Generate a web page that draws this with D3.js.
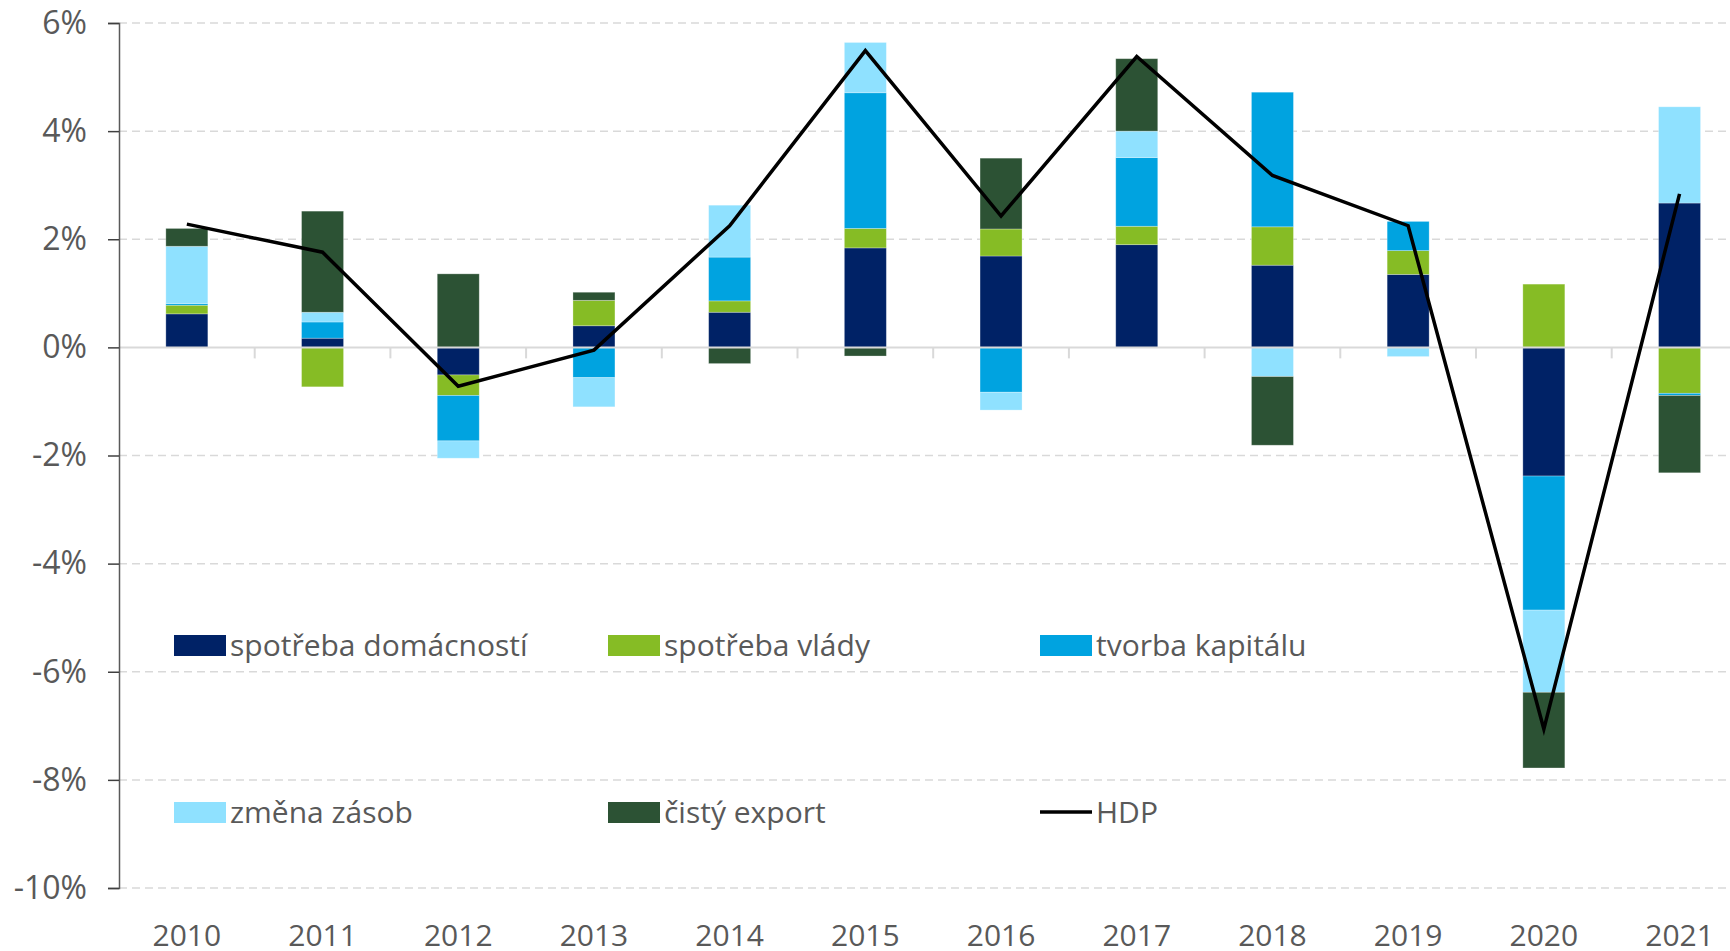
<!DOCTYPE html>
<html>
<head>
<meta charset="utf-8">
<script src="https://cdn.jsdelivr.net/npm/d3@7"></script>
<style>
  body { margin: 0; background: #fff; }
  svg { display: block; font-family: "Open Sans", "Noto Sans", sans-serif; }
</style>
</head>
<body>
<svg id="chart" width="1730" height="951"></svg>
<script>
// data (percent points)
var years = ["2010","2011","2012","2013","2014","2015","2016","2017","2018","2019","2020","2021"];
var domacnosti = [0.62, 0.17, -0.51, 0.40, 0.65, 1.84, 1.69, 1.90, 1.52, 1.35, -2.38, 2.67];
var vlada      = [0.16, -0.73, -0.38, 0.47, 0.21, 0.36, 0.50, 0.34, 0.71, 0.44, 1.17, -0.85];
var kapital    = [0.03, 0.30, -0.84, -0.56, 0.81, 2.51, -0.83, 1.27, 2.49, 0.54, -2.48, -0.04];
var zasoby     = [1.06, 0.18, -0.32, -0.54, 0.96, 0.93, -0.33, 0.49, -0.54, -0.17, -1.52, 1.78];
var export_    = [0.33, 1.87, 1.36, 0.15, -0.30, -0.16, 1.31, 1.34, -1.27, 0.00, -1.40, -1.43];
var hdp        = [2.28, 1.76, -0.72, -0.05, 2.25, 5.49, 2.43, 5.38, 3.18, 2.25, -7.06, 2.84];
var yTicks = [6, 4, 2, 0, -2, -4, -6, -8, -10];

var seriesKeys = ["domacnosti", "vlada", "kapital", "zasoby", "export"];
var seriesNames = ["spotřeba domácností", "spotřeba vlády", "tvorba kapitálu", "změna zásob", "čistý export"];
var seriesColors = ["#002266", "#86BC25", "#00A3E0", "#8FE1FF", "#2C5234"];
var lineName = "HDP";

var rows = years.map(function(y, i) {
  return { year: y, domacnosti: domacnosti[i], vlada: vlada[i], kapital: kapital[i],
           zasoby: zasoby[i], export: export_[i], hdp: hdp[i] };
});

var svg = d3.select("#chart");
var W = 1730, H = 951;
var plotLeft = 119, plotTop = 23, plotBottom = 888;
var band = 135.7;
var fontSize = 30;

var x = d3.scaleBand().domain(years).range([plotLeft, plotLeft + band * years.length]).padding(0);
var y = d3.scaleLinear().domain([-10, 6]).range([plotBottom, plotTop]);
var barW = 42;
var textCol = "#595959";

// gridlines
svg.append("g").selectAll("line")
  .data(yTicks.filter(function(t) { return t !== 0; }))
  .enter().append("line")
  .attr("x1", plotLeft).attr("x2", W)
  .attr("y1", function(d) { return y(d); }).attr("y2", function(d) { return y(d); })
  .attr("stroke", "#d9d9d9").attr("stroke-width", 1.5)
  .attr("stroke-dasharray", "8,5");

// bars
var stack = d3.stack().keys(seriesKeys).offset(d3.stackOffsetDiverging);
var stacked = stack(rows);

svg.append("g").selectAll("g")
  .data(stacked)
  .enter().append("g")
  .attr("fill", function(d, i) { return seriesColors[i]; })
  .selectAll("rect")
  .data(function(d) { return d; })
  .enter().append("rect")
  .attr("x", function(d) { return x(d.data.year) + x.bandwidth() / 2 - barW / 2; })
  .attr("width", barW)
  .attr("y", function(d) { return y(Math.max(d[0], d[1])); })
  .attr("height", function(d) { return Math.abs(y(d[0]) - y(d[1])); })
  .attr("stroke", "rgba(255,255,255,0.35)").attr("stroke-width", 0.8);

// zero line with category ticks
svg.append("line")
  .attr("x1", plotLeft).attr("x2", W)
  .attr("y1", y(0)).attr("y2", y(0))
  .attr("stroke", "#d9d9d9").attr("stroke-width", 2);

svg.append("g").selectAll("line")
  .data(years.slice(1))
  .enter().append("line")
  .attr("x1", function(d) { return x(d); }).attr("x2", function(d) { return x(d); })
  .attr("y1", y(0)).attr("y2", y(0) + 11)
  .attr("stroke", "#d9d9d9").attr("stroke-width", 2);

// y axis
var yAxis = d3.axisLeft(y).tickValues(yTicks)
  .tickFormat(function(d) { return d + "%"; })
  .tickSize(11).tickPadding(21);

var ya = svg.append("g").attr("transform", "translate(" + plotLeft + ",0)").call(yAxis);
ya.select(".domain").attr("stroke", textCol).attr("stroke-width", 1.5);
ya.selectAll(".tick line").attr("stroke", "#404040").attr("stroke-width", 1.5);
ya.selectAll(".tick text").attr("fill", textCol).attr("font-size", 32)
  .attr("font-family", "Open Sans, sans-serif");

// x labels
svg.append("g").selectAll("text")
  .data(years)
  .enter().append("text")
  .attr("x", function(d) { return x(d) + x.bandwidth() / 2; })
  .attr("y", 946)
  .attr("text-anchor", "middle")
  .attr("fill", textCol).attr("font-size", fontSize)
  .text(function(d) { return d; });

// HDP line
var line = d3.line()
  .x(function(d) { return x(d.year) + x.bandwidth() / 2; })
  .y(function(d) { return y(d.hdp); });

svg.append("path")
  .datum(rows)
  .attr("d", line)
  .attr("fill", "none")
  .attr("stroke", "#000").attr("stroke-width", 3.5)
  .attr("stroke-linejoin", "miter");

// legend
var legendX = [174, 608, 1040];
var legendY = [645, 812];
var legendItems = seriesNames.map(function(n, i) { return { name: n, color: seriesColors[i], type: "rect" }; });
legendItems.push({ name: lineName, color: "#000", type: "line" });

var lg = svg.append("g").selectAll("g")
  .data(legendItems)
  .enter().append("g")
  .attr("transform", function(d, i) {
    return "translate(" + legendX[i % 3] + "," + legendY[Math.floor(i / 3)] + ")";
  });

lg.each(function(d) {
  var g = d3.select(this);
  if (d.type === "rect") {
    g.append("rect").attr("x", 0).attr("y", -10).attr("width", 52).attr("height", 21).attr("fill", d.color);
  } else {
    g.append("line").attr("x1", 0).attr("x2", 52).attr("y1", 0).attr("y2", 0)
      .attr("stroke", d.color).attr("stroke-width", 3.5);
  }
  g.append("text").attr("x", 56).attr("y", 0).attr("dy", "0.35em")
    .attr("fill", textCol).attr("font-size", fontSize).text(d.name);
});
</script>
</body>
</html>
